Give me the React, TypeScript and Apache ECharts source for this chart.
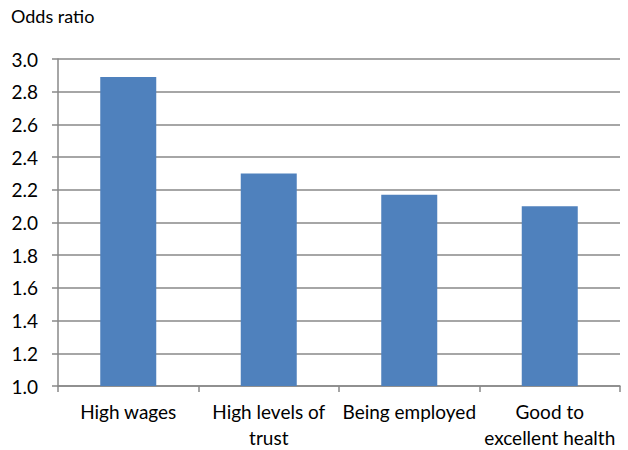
import React, { useEffect, useRef } from "react";
import * as echarts from "echarts";

const categories = ["High wages", "High levels of\ntrust", "Being employed", "Good to\nexcellent health"];
const oddsRatios = [2.89, 2.30, 2.17, 2.10];
const yTitle = "Odds ratio";

export default function App() {
  const ref = useRef<HTMLDivElement>(null);
  useEffect(() => {
    const chart = echarts.init(ref.current!, null, { renderer: "svg" });
    const font = "Lato, 'Liberation Sans', sans-serif";
    chart.setOption({
      animation: false,
      graphic: [
        { type: "text", left: 11, top: 7, style: { text: yTitle, font: `18px ${font}`, fill: "#000" } },
      ],
      grid: { left: 58, right: 8, top: 59, bottom: 64 },
      xAxis: {
        type: "category",
        data: categories,
        axisLine: { lineStyle: { color: "#898989", width: 1.5 } },
        axisTick: { show: true, length: 6, lineStyle: { color: "#898989", width: 1.5 } },
        axisLabel: { color: "#000", fontSize: 19, fontFamily: font, lineHeight: 26, margin: 12, interval: 0 },
      },
      yAxis: {
        type: "value",
        min: 1,
        max: 3,
        interval: 0.2,
        axisLine: { show: true, lineStyle: { color: "#898989", width: 1.5 } },
        axisTick: { show: true, length: 6, lineStyle: { color: "#898989", width: 1.5 } },
        splitLine: { lineStyle: { color: "#898989", width: 1.5 } },
        axisLabel: { color: "#000", fontSize: 19, fontFamily: font, margin: 20, formatter: (v: number) => v.toFixed(1) },
      },
      series: [
        {
          type: "bar",
          data: oddsRatios,
          barWidth: 56,
          itemStyle: { color: "#4F81BD" },
        },
      ],
    });
    return () => chart.dispose();
  }, []);
  return <div ref={ref} style={{ width: 628, height: 450, position: "absolute", left: 0, top: 0 }} />;
}
